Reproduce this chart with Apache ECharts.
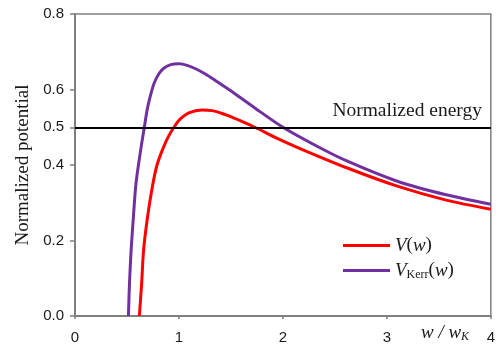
<!DOCTYPE html>
<html>
<head>
<meta charset="utf-8">
<script src="https://cdn.jsdelivr.net/npm/echarts@6/dist/echarts.min.js"></script>
<style>
  html, body { margin: 0; padding: 0; background: #fff; }
  #grafico { width: 498px; height: 347px; }
</style>
</head>
<body>
<div id="grafico"></div>
<script>
// ---------- dados ----------
const wV = [0.619, 0.641, 0.66, 0.698, 0.746, 0.787, 0.841, 0.898, 0.952, 1.006, 1.095, 1.222, 1.317, 1.41, 1.48, 1.6, 1.73, 1.95, 2.17, 2.62, 3.10, 3.57, 4.0];
const valV = [0, 0.086, 0.175, 0.263, 0.345, 0.398, 0.44, 0.475, 0.50, 0.52, 0.538, 0.546, 0.544, 0.537, 0.530, 0.516, 0.50, 0.470, 0.443, 0.392, 0.344, 0.307, 0.283];

const wKerr = [0.514, 0.524, 0.54, 0.562, 0.587, 0.632, 0.667, 0.694, 0.723, 0.762, 0.81, 0.857, 0.921, 1.0, 1.079, 1.16, 1.254, 1.35, 1.48, 1.73, 2.0, 2.333, 2.62, 3.10, 3.57, 4.0];
const valKerr = [0, 0.086, 0.175, 0.263, 0.352, 0.44, 0.50, 0.546, 0.581, 0.617, 0.643, 0.657, 0.666, 0.668, 0.664, 0.655, 0.641, 0.624, 0.600, 0.551, 0.50, 0.449, 0.410, 0.357, 0.321, 0.296];

const energia = 0.5;
const ticksY = [0, 0.2, 0.4, 0.5, 0.6, 0.8];
const ticksX = [0, 1, 2, 3, 4];

const serif = '"Liberation Serif", "Times New Roman", serif';
const sans = '"Liberation Sans", Arial, sans-serif';
const cinza = '#808080';

function pares(xs, ys) {
    return xs.map((x, i) => [x, ys[i]]);
}

const chart = echarts.init(document.getElementById("grafico"));

const option = {
    animation: false,
    grid: {
        left: 75, right: 3, top: 14, bottom: 31,
        show: true,
        borderColor: cinza,
        borderWidth: 1.5
    },
    xAxis: {
        type: 'value',
        min: 0, max: 4, interval: 1,
        axisLine: { lineStyle: { color: cinza, width: 2 } },
        axisTick: { show: true, length: 3, lineStyle: { color: cinza, width: 1.5 } },
        axisLabel: {
            margin: 14, color: '#1a1a1a', fontFamily: sans, fontSize: 15,
            customValues: ticksX
        },
        splitLine: { show: false }
    },
    yAxis: {
        type: 'value',
        min: 0, max: 0.8, interval: 0.1,
        name: 'Normalized potential',
        nameLocation: 'middle',
        nameGap: 41,
        nameTextStyle: { fontFamily: serif, fontSize: 19, color: '#1a1a1a' },
        axisLine: { show: true, lineStyle: { color: cinza, width: 2 } },
        axisTick: { show: true, length: 5, lineStyle: { color: cinza, width: 1.5 }, customValues: ticksY },
        axisLabel: {
            margin: 11, color: '#1a1a1a', fontFamily: sans, fontSize: 15,
            customValues: ticksY,
            formatter: v => v.toFixed(1)
        },
        splitLine: { show: false }
    },
    legend: {
        orient: 'vertical',
        left: 338, top: 231,
        icon: 'rect',
        itemWidth: 47, itemHeight: 3,
        itemGap: 5,
        data: ['V', 'VKerr'],
        formatter: nome => nome === 'V'
            ? '{i|V}{n|(}{i|w}{n|)}'
            : '{i|V}{s|Kerr}{n|(}{i|w}{n|)}',
        textStyle: {
            fontFamily: serif, fontSize: 19, color: '#1a1a1a',
            rich: {
                i: { fontFamily: serif, fontSize: 19, fontStyle: 'italic', color: '#1a1a1a', lineHeight: 20 },
                n: { fontFamily: serif, fontSize: 19, color: '#1a1a1a', lineHeight: 20 },
                s: { fontFamily: serif, fontSize: 12, color: '#1a1a1a', lineHeight: 20, padding: [9, 0, 0, 0] }
            }
        }
    },
    graphic: [
        {
            type: 'text', right: 16, top: 101,
            style: { text: 'Normalized energy', font: '19.5px ' + serif, fill: '#1a1a1a' }
        },
        {
            type: 'text', left: 421, top: 322,
            style: {
                text: '{i|w / w}{s|K}',
                rich: {
                    i: { fontFamily: serif, fontSize: 19, fontStyle: 'italic', fill: '#1a1a1a', lineHeight: 22 },
                    s: { fontFamily: serif, fontSize: 12, fontStyle: 'italic', fill: '#1a1a1a', lineHeight: 22, padding: [9, 0, 0, 0] }
                }
            }
        }
    ],
    series: [
        {
            name: 'V',
            type: 'line',
            data: pares(wV, valV),
            smooth: 0.3,
            showSymbol: false,
            lineStyle: { color: '#ff0000', width: 3 },
            itemStyle: { color: '#ff0000' },
            markLine: {
                silent: true,
                symbol: 'none',
                label: { show: false },
                lineStyle: { color: '#000', width: 2, type: 'solid' },
                data: [{ yAxis: energia }]
            },
            z: 3
        },
        {
            name: 'VKerr',
            type: 'line',
            data: pares(wKerr, valKerr),
            smooth: 0.3,
            showSymbol: false,
            lineStyle: { color: '#7030a0', width: 3 },
            itemStyle: { color: '#7030a0' },
            z: 3
        }
    ]
};

chart.setOption(option);
</script>
</body>
</html>
